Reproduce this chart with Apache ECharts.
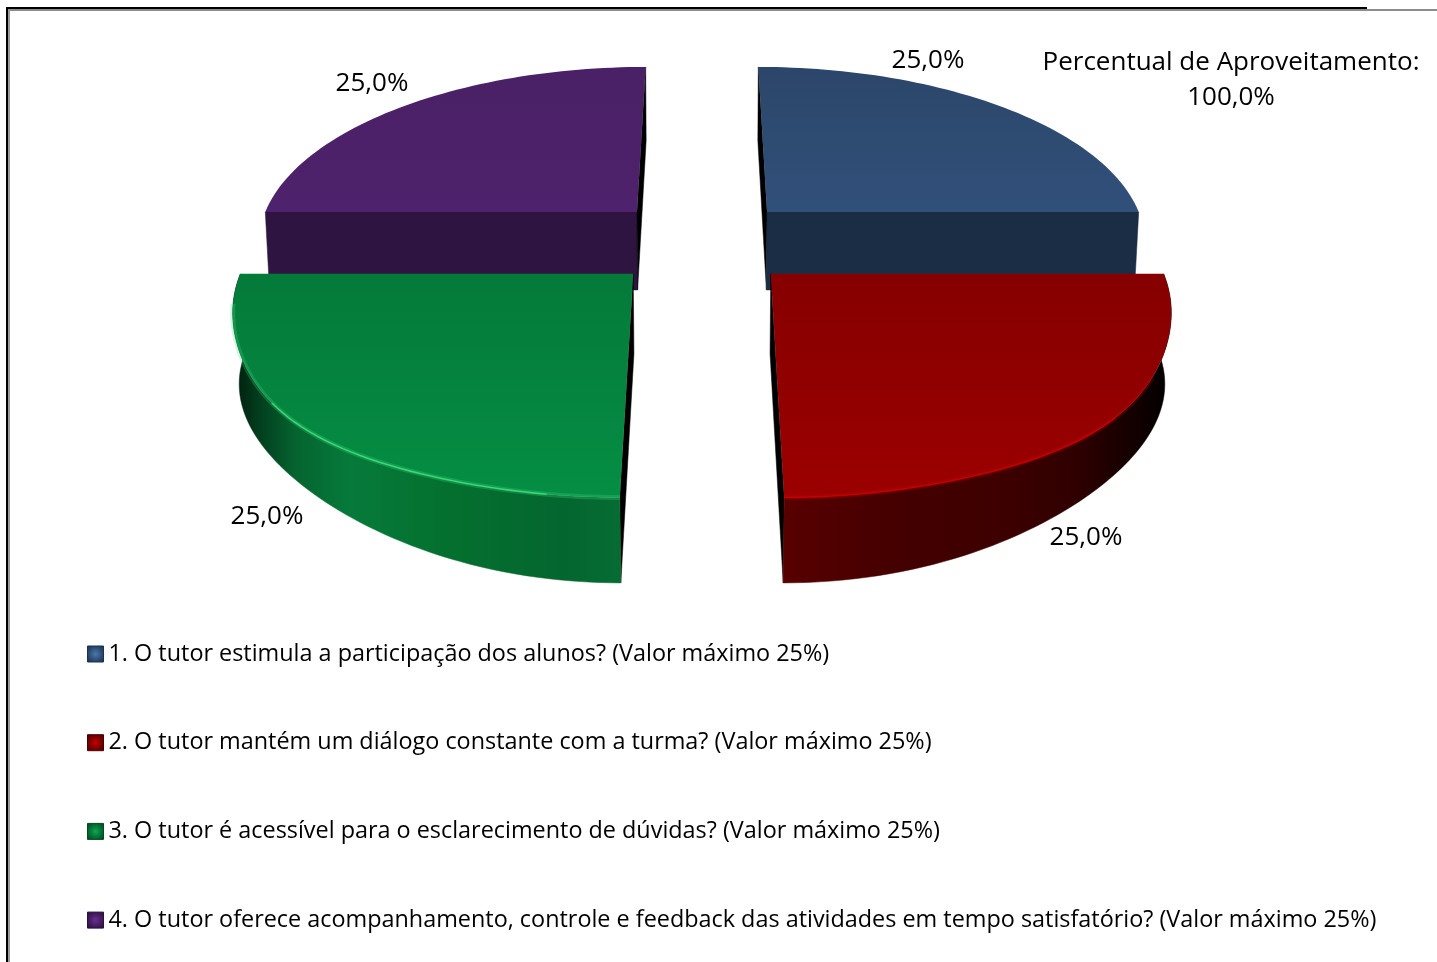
<!DOCTYPE html>
<html><head><meta charset="utf-8">
<style>html,body{margin:0;padding:0;background:#fff}#c{width:1437px;height:962px}</style>
<script src="https://cdn.jsdelivr.net/npm/echarts@6/dist/echarts.min.js"></script>
</head><body><div id="c"></div>
<script>
const categories = [
  '1. O tutor estimula a participação dos alunos? (Valor máximo 25%)',
  '2. O tutor mantém um diálogo constante com a turma? (Valor máximo 25%)',
  '3. O tutor é acessível para o esclarecimento de dúvidas? (Valor máximo 25%)',
  '4. O tutor oferece acompanhamento, controle e feedback das atividades em tempo satisfatório? (Valor máximo 25%)'
];
const values = [25.0, 25.0, 25.0, 25.0];
const totalTitle = 'Percentual de Aproveitamento:\n100,0%';

const topColors = [['#2b4669','#31507a'],['#860000','#9c0000'],['#047a39','#058e44'],['#4a2066','#4e226c']];
const wallColors = ['#1b2d45','#4a0000','#04632e','#2e1440'];
const wallStops = [
  null,
  [[0,'#580000'],[.3,'#440000'],[.55,'#3e0000'],[.75,'#300000'],[.88,'#180000'],[1,'#000']],
  [[0,'#001a0a'],[.06,'#023a1c'],[.16,'#05632f'],[.3,'#067a3a'],[.55,'#04702f'],[.85,'#04662f'],[1,'#066c34']],
  null
];
const highlights = [null,'#c40000','#3ee07f',null];
const legendIcons = [['#4a78ad','#1c3350'],['#c80000','#4a0000'],['#0aa850','#024a22'],['#6a2f90','#2a1040']];
const labelAnchors = [[928,61],[1086,538],[267,517],[372,84]];
const zs = [2,3,3,2];
const rimBulge = [0,0.022,0.022,0];
const floorPinch = 0.03;
const glowRange = [null,[20,61],[0,55],null];
const brightRange = [null,[28,61],[6,36],null];

const FONT = '"Open Sans", sans-serif';
const cam = {cx:702, yv:-870, b:1112, c:90.8, d:-5.8, a:382, k:0.159, m:0.01, explode:0.2475};

function project(u, v, z){
  const w = 1 - cam.k*v + cam.m*z;
  return [cam.cx + cam.a*u/w, cam.yv + (cam.b + cam.c*z + cam.d*z*v)/w];
}
function area(p){let s=0;for(let i=0;i<p.length;i++){const a=p[i],b=p[(i+1)%p.length];s+=a[0]*b[1]-b[0]*a[1];}return s/2;}

function renderSlice(idx, api){
  const total = values.reduce((a,b)=>a+b,0);
  const before = values.slice(0,idx).reduce((a,b)=>a+b,0);
  const a0 = before/total*2*Math.PI, a1 = a0 + api.value(0)/total*2*Math.PI, mid=(a0+a1)/2;
  const ox = Math.sin(mid)*cam.explode, oy = -Math.cos(mid)*cam.explode;
  const N = 60, topRim = [], botRim = [];
  for(let i=0;i<=N;i++){
    const t=a0+(a1-a0)*i/N, s=Math.sin(2*t), r=1+rimBulge[idx]*s*s*s*s, rb=1-floorPinch*s*s;
    topRim.push(project(ox+r*Math.sin(t),oy-r*Math.cos(t),0));
    botRim.push(project(ox+rb*Math.sin(t),oy-rb*Math.cos(t),1));
  }
  const apexT = project(ox,oy,0), apexB = project(ox,oy,1);
  const topPoly = [apexT].concat(topRim), sign = area(topPoly);
  const kids = [];
  const wall = (pts,fill)=>{ if(area(pts)*sign<0) kids.push({type:'polygon',shape:{points:pts},style:{fill,stroke:fill,lineWidth:.5}}); };
  const radial = (angle,t,b,first)=>{
    const horiz = Math.abs(Math.sin(angle))>.7;
    const pts = first?[apexT,t,b,apexB]:[t,apexT,apexB,b];
    wall(pts, horiz?wallColors[idx]:'#000');
  };
  radial(a0,topRim[0],botRim[0],true);
  radial(a1,topRim[N],botRim[N],false);
  const outer = topRim.concat(botRim.slice().reverse());
  const fill = wallStops[idx]
    ? {type:'linear',x:0,y:0,x2:1,y2:0,colorStops:wallStops[idx].map(s=>({offset:s[0],color:s[1]}))}
    : wallColors[idx];
  wall(outer,fill);
  kids.push({type:'polygon',shape:{points:topPoly},style:{
    fill:{type:'linear',x:0,y:0,x2:0,y2:1,colorStops:[{offset:0,color:topColors[idx][0]},{offset:1,color:topColors[idx][1]}]}}});
  if(highlights[idx]){
    const g = glowRange[idx], h = brightRange[idx];
    kids.push({type:'polyline',shape:{points:topRim.slice(g[0],g[1])},style:{fill:null,stroke:highlights[idx],lineWidth:5,opacity:.25}});
    kids.push({type:'polyline',shape:{points:topRim.slice(h[0],h[1])},style:{fill:null,stroke:highlights[idx],lineWidth:1.6,opacity:.85}});
  }
  const txt = api.value(0).toFixed(1).replace('.',',')+'%';
  kids.push({type:'text',x:labelAnchors[idx][0],y:labelAnchors[idx][1],z2:5,
    style:{text:txt,font:'26px '+FONT,fill:'#000',align:'center',verticalAlign:'middle'}});
  return {type:'group',children:kids};
}

const chart = echarts.init(document.getElementById('c'),null,{renderer:'canvas'});
chart.setOption({
  animation:false,
  backgroundColor:'#fff',
  title:{text:totalTitle,left:1226,top:40,textAlign:'center',
    textStyle:{fontFamily:FONT,fontSize:26,fontWeight:'normal',color:'#000',lineHeight:35}},
  legend:{orient:'vertical',left:87,top:637,padding:0,itemWidth:16,itemHeight:16,itemGap:54.7,
    icon:'rect',selectedMode:false,
    textStyle:{fontFamily:FONT,fontSize:23.4,color:'#000',lineHeight:34},
    data:categories.map((n,i)=>({name:n,itemStyle:{
      color:{type:'radial',x:.5,y:.5,r:.6,colorStops:[{offset:0,color:legendIcons[i][0]},{offset:1,color:legendIcons[i][1]}]},
      borderColor:legendIcons[i][1],borderWidth:1}}))},
  graphic:[
    {type:'rect',shape:{x:6,y:7,width:1361,height:2},style:{fill:'#000'},z:10},
    {type:'rect',shape:{x:9,y:9,width:1428,height:2},style:{fill:'#8c8c8c'},z:10},
    {type:'rect',shape:{x:6,y:7,width:2,height:955},style:{fill:'#000'},z:10},
    {type:'rect',shape:{x:8,y:9,width:2,height:953},style:{fill:'#9c9c9c'},z:10}
  ],
  series:categories.map((n,i)=>({
    type:'custom',name:n,coordinateSystem:'none',z:zs[i],
    itemStyle:{color:topColors[i][1]},
    data:[[values[i]]],
    renderItem:(p,api)=>renderSlice(i,api)
  }))
});
</script></body></html>
